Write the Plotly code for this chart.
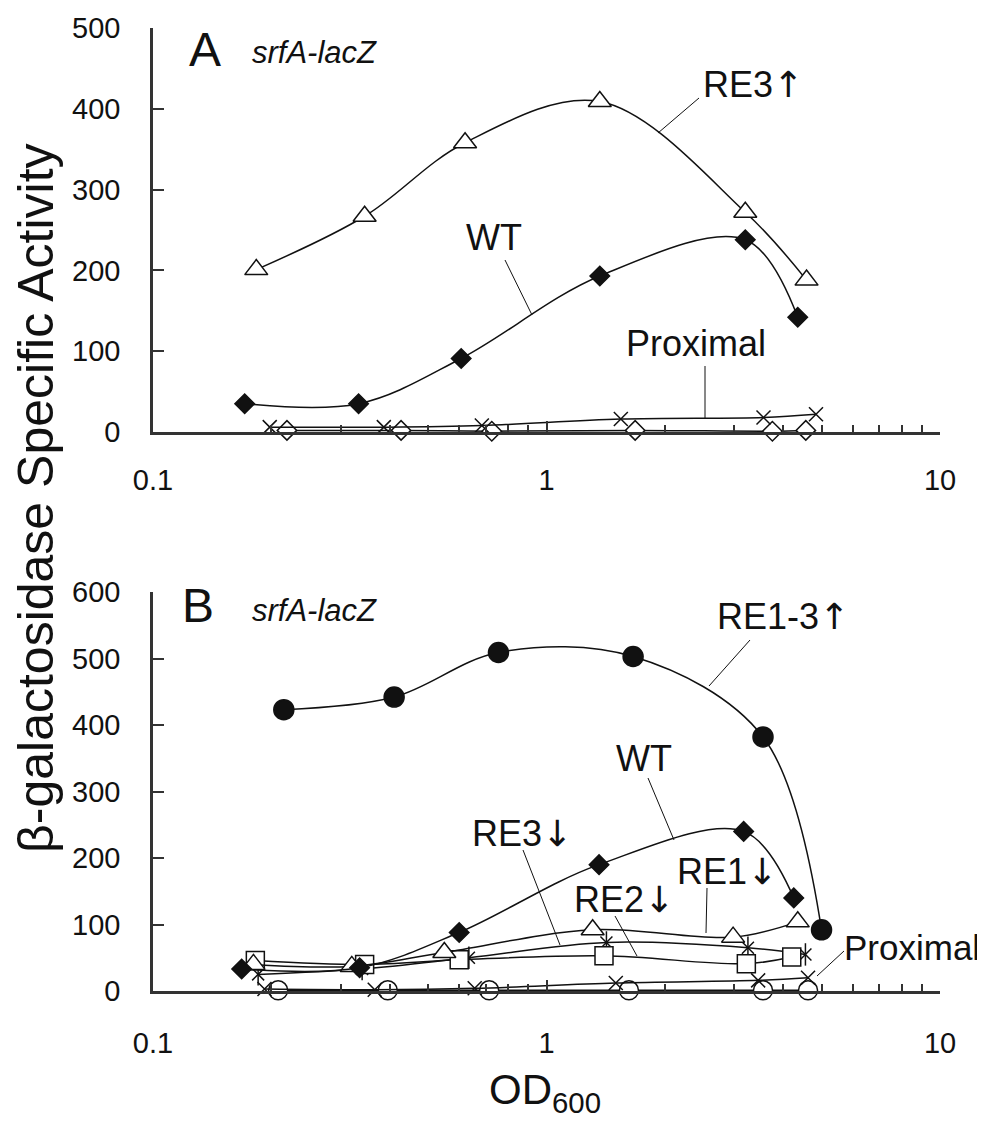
import plotly.graph_objects as go

W, H = 985, 1121

# ---------------- Panel A data (OD600, beta-gal specific activity) ----------------
a_wt_od = [0.171, 0.333, 0.607, 1.366, 3.20, 4.35]
a_wt = [35, 35, 91, 193, 238, 142]
a_re3up_od = [0.183, 0.345, 0.621, 1.366, 3.20, 4.58]
a_re3up = [201, 267, 358, 409, 272, 188]
a_prox_od = [0.198, 0.386, 0.685, 1.545, 3.56, 4.84]
a_prox = [6, 6, 8, 16, 18, 22]
a_ctrl_od = [0.219, 0.427, 0.726, 1.68, 3.75, 4.56]
a_ctrl = [2, 2, 1, 2, 1, 2]

# ---------------- Panel B data ----------------
b_wt_od = [0.168, 0.335, 0.600, 1.36, 3.17, 4.25]
b_wt = [33, 35, 88, 190, 240, 140]
b_re13up_od = [0.215, 0.41, 0.755, 1.66, 3.55, 5.0]
b_re13up = [423, 442, 509, 503, 382, 92]
b_re1dn_od = [0.18, 0.32, 0.55, 1.31, 2.98, 4.35]
b_re1dn = [40, 37, 58, 92, 81, 104]
b_re2dn_od = [0.182, 0.345, 0.600, 1.40, 3.22, 4.20]
b_re2dn = [46, 40, 47, 53, 41, 51]
b_re3dn_od = [0.185, 0.340, 0.635, 1.42, 3.25, 4.55]
b_re3dn = [25, 33, 50, 73, 65, 55]
b_prox_od = [0.192, 0.366, 0.657, 1.50, 3.45, 4.62]
b_prox = [3, 2, 4, 12, 16, 20]
b_ctrl_od = [0.208, 0.395, 0.715, 1.62, 3.55, 4.62]
b_ctrl = [1, 1, 1, 1, 1, 1]

x_tickvals = [0.1, 1, 10]
x_ticktext = ["0.1", "1", "10"]
x_minor = [m * 10.0 ** e for e in (-1, 0) for m in range(2, 10)]

FONT = "Liberation Sans, Arial, Helvetica, sans-serif"
INK = "#111111"
AX = "#333333"
UP = '<span style="font-family:DejaVu Sans">↑</span>'
DN = '<span style="font-family:DejaVu Sans">↓</span>'


def px(x):
    return x / W


def py(y):
    return 1 - y / H


fig = go.Figure()


def series(xs, ys, symbol, size, fill, axis, lw=1.5, name=""):
    xa, ya = axis
    fig.add_trace(go.Scatter(
        x=xs, y=ys, mode="lines+markers", name=name,
        line=dict(color=INK, width=lw, shape="spline", smoothing=1.0),
        marker=dict(symbol=symbol, size=size, color=fill,
                    line=dict(color=INK, width=1.5)),
        xaxis=xa, yaxis=ya, cliponaxis=False, showlegend=False))


def marker_only(xs, ys, symbol, size, axis):
    xa, ya = axis
    fig.add_trace(go.Scatter(
        x=xs, y=ys, mode="markers",
        marker=dict(symbol=symbol, size=size, color=INK,
                    line=dict(color=INK, width=1.5)),
        xaxis=xa, yaxis=ya, cliponaxis=False, showlegend=False))


A = ("x", "y")
B = ("x2", "y2")

# Panel A
series(a_ctrl_od, a_ctrl, "diamond", 15, "white", A, name="ctrl")
series(a_prox_od, a_prox, "x-thin-open", 14, INK, A, name="Proximal")
series(a_wt_od, a_wt, "diamond", 15, INK, A, name="WT")
series(a_re3up_od, a_re3up, "triangle-up", 20, "white", A, name="RE3 up")

# Panel B
series(b_ctrl_od, b_ctrl, "circle", 19, "white", B, name="ctrl")
series(b_prox_od, b_prox, "x-thin-open", 14, INK, B, name="Proximal")
series(b_re3dn_od, b_re3dn, "x-thin-open", 12, INK, B, name="RE3 down")
marker_only(b_re3dn_od, b_re3dn, "line-ns-open", 16, B)
series(b_re2dn_od, b_re2dn, "square", 18, "white", B, name="RE2 down")
series(b_re1dn_od, b_re1dn, "triangle-up", 20, "white", B, name="RE1 down")
series(b_wt_od, b_wt, "diamond", 15, INK, B, name="WT")
series(b_re13up_od, b_re13up, "circle", 20, INK, B, name="RE1-3 up")

xdom = [px(145), px(932)]


def xaxis_cfg(anchor, standoff):
    return dict(
        domain=xdom, anchor=anchor, type="log", range=[-1, 1],
        tickmode="array", tickvals=x_tickvals, ticktext=x_ticktext,
        ticks="inside", ticklen=11, tickwidth=2, tickcolor=AX,
        minor=dict(tickmode="array", tickvals=x_minor, ticks="inside",
                   ticklen=7, tickwidth=1.5, tickcolor=AX, showgrid=False),
        showline=True, linecolor=AX, linewidth=2.5, showgrid=False,
        zeroline=False, ticklabelstandoff=standoff, automargin=False,
        tickfont=dict(family=FONT, size=29, color=INK))


def yaxis_cfg(anchor, dom, top):
    return dict(
        domain=dom, anchor=anchor, range=[0, top], dtick=100,
        ticks="inside", ticklen=11, tickwidth=2, tickcolor=AX,
        showline=True, linecolor=AX, linewidth=2.5, showgrid=False,
        zeroline=False, ticklabelstandoff=24, automargin=False,
        tickfont=dict(family=FONT, size=29, color=INK))


fig.update_layout(
    width=W, height=H, margin=dict(l=0, r=0, t=0, b=0, autoexpand=False),
    paper_bgcolor="white", plot_bgcolor="white",
    xaxis=xaxis_cfg("y", 20),
    yaxis=yaxis_cfg("x", [py(424), py(20)], 500),
    xaxis2=xaxis_cfg("y2", 24),
    yaxis2=yaxis_cfg("x2", [py(983), py(584)], 600),
)

anns = []


def label(text, x, y, size=36, italic=False, xanchor="center"):
    anns.append(dict(
        text=("<i>%s</i>" % text) if italic else text,
        x=px(x), y=py(y), xref="paper", yref="paper",
        xanchor=xanchor, yanchor="middle", showarrow=False,
        font=dict(family=FONT, size=size, color=INK)))


shapes = []


def leader(x0, y0, x1, y1):
    shapes.append(dict(type="line", xref="paper", yref="paper",
                       x0=px(x0), y0=py(y0), x1=px(x1), y1=py(y1),
                       line=dict(color=INK, width=1)))


# Panel A labels
label("A", 197, 42, size=48)
label("srfA-lacZ", 242, 44, size=31, italic=True, xanchor="left")
label("RE3" + UP, 745, 76)
leader(691, 90, 650, 125)
label("WT", 486, 230)
leader(497, 252, 524, 307)
label("Proximal", 688, 335)
leader(697, 358, 697, 410)

# Panel B labels
label("B", 190, 598, size=48)
label("srfA-lacZ", 242, 602, size=31, italic=True, xanchor="left")
label("RE1-3" + UP, 775, 608)
leader(742, 632, 701, 678)
label("WT", 636, 750)
leader(640, 770, 666, 832)
label("RE3" + DN, 514, 825)
leader(515, 842, 552, 937)
label("RE2" + DN, 616, 891)
leader(607, 908, 629, 948)
label("RE1" + DN, 719, 863)
leader(699, 880, 698, 925)
label("Proximal", 904, 939, size=35)
leader(836, 943, 809, 968)

# Axis titles
anns.append(dict(text="β-galactosidase Specific Activity", x=px(28), y=py(490),
                 xref="paper", yref="paper", textangle=-90, showarrow=False,
                 xanchor="center", yanchor="middle",
                 font=dict(family=FONT, size=50, color=INK)))
anns.append(dict(text="OD<sub>600</sub>", x=px(537), y=py(1084),
                 xref="paper", yref="paper", showarrow=False,
                 xanchor="center", yanchor="middle",
                 font=dict(family=FONT, size=42, color=INK)))

fig.update_layout(annotations=anns, shapes=shapes)

fig.write_html("out.html")
